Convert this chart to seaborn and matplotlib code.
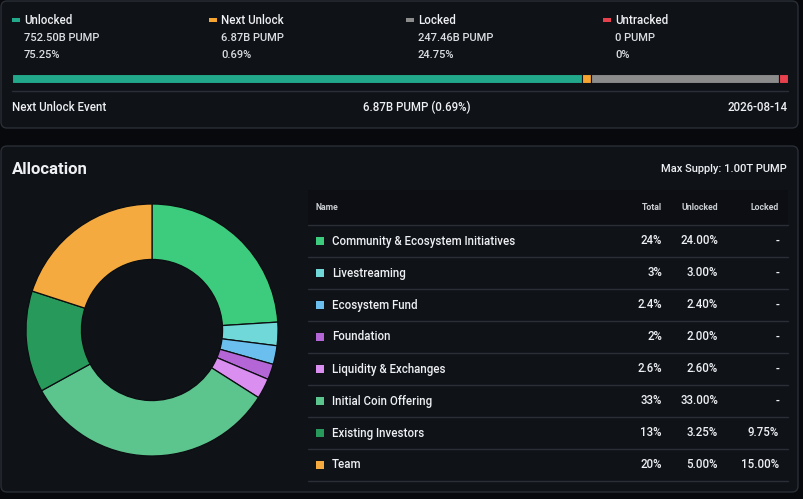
"""
Token unlock overview: progress bar summary + allocation donut with table.
"""

import matplotlib.pyplot as plt
import seaborn as sns
from matplotlib.patches import FancyBboxPatch, Rectangle

# --- data ---
status_labels = ['Unlocked', 'Next Unlock', 'Locked', 'Untracked']
status_amounts = ['752.50B PUMP', '6.87B PUMP', '247.46B PUMP', '0 PUMP']
status_pcts = ['75.25%', '0.69%', '24.75%', '0%']
status_colors = ['#22a98c', '#f6a531', '#8c8c8c', '#e8414d']
# bar segments (percent of supply); tiny segments get a minimum visible width
bar_values = [75.25, 0.69, 24.75, 0.0]
bar_min_width = 1.2

next_event_label = 'Next Unlock Event'
next_event_amount = '6.87B PUMP (0.69%)'
next_event_date = '2026-08-14'

max_supply = 'Max Supply: 1.00T PUMP'
table_headers = ['Name', 'Total', 'Unlocked', 'Locked']
alloc_names = ['Community & Ecosystem Initiatives', 'Livestreaming', 'Ecosystem Fund',
               'Foundation', 'Liquidity & Exchanges', 'Initial Coin Offering',
               'Existing Investors', 'Team']
alloc_total = [24, 3, 2.4, 2, 2.6, 33, 13, 20]
alloc_total_txt = ['24%', '3%', '2.4%', '2%', '2.6%', '33%', '13%', '20%']
alloc_unlocked_txt = ['24.00%', '3.00%', '2.40%', '2.00%', '2.60%', '33.00%', '3.25%', '5.00%']
alloc_locked_txt = ['-', '-', '-', '-', '-', '-', '9.75%', '15.00%']
alloc_colors = ['#3dcc7d', '#70d8d8', '#6bbfee', '#b566d6', '#d98ef0',
                '#5cc48d', '#27995a', '#f4aa3e']

# --- style ---
sns.set_theme(style='dark')
plt.rcParams['font.family'] = ['Roboto', 'DejaVu Sans']

W, H = 804, 499
page_bg = '#07090c'
panel_bg = '#0f1217'
border = '#2a2e36'
txt_main = '#eef0f3'
txt_sub = '#dadde1'
fw = 'medium'

fig = plt.figure(figsize=(W / 100, H / 100), dpi=100, facecolor=page_bg)


def px_axes(x0, y0, w, h):
    """Axes placed by pixel box (top-left origin)."""
    return fig.add_axes([x0 / W, 1 - (y0 + h) / H, w / W, h / H])


# background canvas in pixel coordinates
bg = fig.add_axes([0, 0, 1, 1])
bg.set_xlim(0, W)
bg.set_ylim(H, 0)
bg.axis('off')

for (x0, y0, x1, y1) in [(1, 1, 798, 128), (1, 146, 798, 492)]:
    bg.add_patch(FancyBboxPatch((x0, y0), x1 - x0, y1 - y0,
                                boxstyle='round,pad=0,rounding_size=6',
                                facecolor=panel_bg, edgecolor=border, linewidth=1))

# top legend
legend_x = [12, 209, 406, 603]
for lbl, amt, pct, col, x in zip(status_labels, status_amounts, status_pcts,
                                 status_colors, legend_x):
    bg.add_patch(Rectangle((x, 18), 8, 4, facecolor=col, edgecolor='none'))
    bg.text(x + 12, 20, lbl, color=txt_main, fontsize=8.3, va='center', fontweight=fw)
    bg.text(x + 12, 37.5, amt, color=txt_sub, fontsize=8, va='center', fontweight=fw)
    bg.text(x + 12, 55, pct, color=txt_sub, fontsize=8, va='center', fontweight=fw)

# progress bar
bar_ax = px_axes(12, 74, 776, 9)
shown = [max(v, bar_min_width) for v in bar_values]
left = 0
for v, col in zip(shown, status_colors):
    bar_ax.barh(0, v, left=left, height=1, color=col, edgecolor=panel_bg, linewidth=0.8)
    left += v
bar_ax.set_xlim(0, left)
bar_ax.set_ylim(-0.5, 0.5)
bar_ax.axis('off')

bg.plot([12, 788], [91, 91], color=border, linewidth=1)
bg.text(12, 107, next_event_label, color=txt_main, fontsize=8.3, va='center', fontweight=fw)
bg.text(417, 107, next_event_amount, color=txt_main, fontsize=8.3, va='center',
        ha='center', fontweight=fw)
bg.text(788, 107, next_event_date, color=txt_main, fontsize=8.3, va='center',
        ha='right', fontweight=fw)

# allocation section
bg.text(12, 170, 'Allocation', color=txt_main, fontsize=12, fontweight='bold', va='center')
bg.text(787, 169, max_supply, color=txt_main, fontsize=8, va='center', ha='right',
        fontweight=fw)

pie_ax = px_axes(26, 204, 252, 252)
pie_ax.pie(alloc_total, colors=alloc_colors, startangle=90, counterclock=False,
           radius=1, wedgeprops=dict(width=0.44, edgecolor='#0b0d11', linewidth=0.9))
pie_ax.set_xlim(-1.0, 1.0)
pie_ax.set_ylim(-1.0, 1.0)
pie_ax.set_aspect('equal')
pie_ax.axis('off')

# table
bg.add_patch(Rectangle((308, 190), 480, 35, facecolor='#0c0e13', edgecolor='none'))
col_x = [316, 662, 718, 779]
bg.text(col_x[0], 208, table_headers[0], color='#c9ccd1', fontsize=6.3,
        fontweight='bold', va='center')
for hdr, x in zip(table_headers[1:], col_x[1:]):
    bg.text(x, 208, hdr, color='#c9ccd1', fontsize=6.3, fontweight='bold',
            va='center', ha='right')

row_top = 225
row_h = 32
bg.plot([308, 788], [row_top, row_top], color=border, linewidth=1)
for i, (name, tot, unl, lck, col) in enumerate(zip(alloc_names, alloc_total_txt,
                                                   alloc_unlocked_txt, alloc_locked_txt,
                                                   alloc_colors)):
    yc = row_top + row_h * i + row_h / 2
    bg.add_patch(Rectangle((316, yc - 4), 8, 8, facecolor=col, edgecolor='none'))
    bg.text(332, yc, name, color=txt_main, fontsize=8.3, va='center', fontweight=fw)
    bg.text(col_x[1], yc, tot, color=txt_main, fontsize=8.3, va='center', ha='right',
            fontweight=fw)
    bg.text(col_x[2], yc, unl, color=txt_main, fontsize=8.3, va='center', ha='right',
            fontweight=fw)
    bg.text(col_x[3], yc, lck, color=txt_main, fontsize=8.3, va='center', ha='right',
            fontweight=fw)
    y_line = row_top + row_h * (i + 1)
    bg.plot([308, 788], [y_line, y_line], color=border, linewidth=1)

fig.savefig('out.png', dpi=100, facecolor=page_bg)
